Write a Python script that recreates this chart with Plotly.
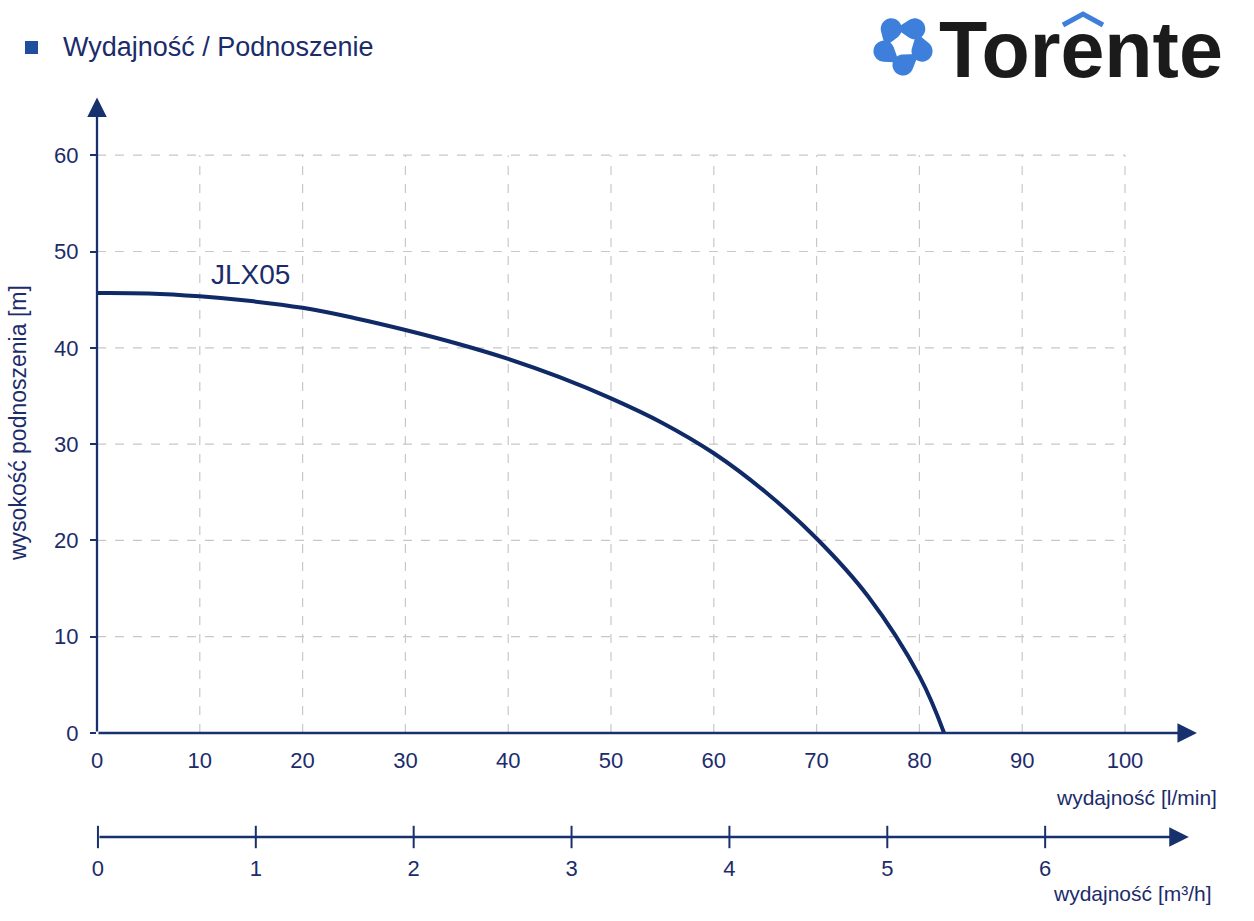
import math
import plotly.graph_objects as go

# ---------------- data ----------------
flow_lpm = [0, 5, 10, 15, 20, 25, 30, 35, 40, 45, 50, 55, 60, 65, 70, 75, 80, 82.4]
head_m = [45.7, 45.65, 45.35, 44.85, 44.15, 43.1, 41.85, 40.45, 38.85, 36.95, 34.75, 32.2,
          29.05, 25.05, 20.2, 14.2, 5.9, 0]
series_name = "JLX05"

x_ticks_lpm = [0, 10, 20, 30, 40, 50, 60, 70, 80, 90, 100]
y_ticks_m = [0, 10, 20, 30, 40, 50, 60]
x_ticks_m3h = [0, 1, 2, 3, 4, 5, 6]

# ---------------- styling ----------------
W, H = 1254, 921
ML, MR, MT, MB = 97, 26, 95, 20
PW, PH = W - ML - MR, H - MT - MB
NAVY = "#17306e"
CURVE = "#0f2a66"
TXT = "#1c2c6b"
GRID = "#c8c8c8"
BLUE = "#3d7fdb"
FONT = "Liberation Sans, Arial, sans-serif"


def px_x(p):
    return (p - ML) / PW


def px_y(p):
    return (H - MB - p) / PH


fig = go.Figure()

fig.add_trace(go.Scatter(
    x=flow_lpm, y=head_m, mode="lines",
    line=dict(color=CURVE, width=4, shape="spline", smoothing=1.1),
    xaxis="x", yaxis="y", showlegend=False, hoverinfo="x+y",
))

# tick marks of the secondary (m3/h) axis
fig.add_trace(go.Scatter(
    x=x_ticks_m3h, y=[0] * len(x_ticks_m3h), mode="markers",
    marker=dict(symbol="line-ns", size=16, line=dict(color=NAVY, width=2)),
    xaxis="x2", yaxis="y2", showlegend=False, cliponaxis=False, hoverinfo="skip",
))

shapes = []
# dashed grid (stops at 100 / 60)
for xv in x_ticks_lpm[1:]:
    shapes.append(dict(type="line", xref="x", yref="y", x0=xv, x1=xv, y0=0, y1=max(y_ticks_m),
                       line=dict(color=GRID, width=1.2, dash="dash"), layer="below"))
for yv in y_ticks_m[1:]:
    shapes.append(dict(type="line", xref="x", yref="y", x0=0, x1=max(x_ticks_lpm), y0=yv, y1=yv,
                       line=dict(color=GRID, width=1.2, dash="dash"), layer="below"))

# title bullet square
shapes.append(dict(type="rect", xref="paper", yref="paper",
                   x0=px_x(25), x1=px_x(38), y0=px_y(54), y1=px_y(41),
                   fillcolor="#1f4f9c", line=dict(width=0)))

# logo roof over the "e"
shapes.append(dict(type="path", xref="paper", yref="paper",
                   path=f"M{px_x(1063)},{px_y(25)} L{px_x(1083)},{px_y(14)} L{px_x(1103)},{px_y(25)}",
                   line=dict(color=BLUE, width=5)))


# logo petals (teardrops in a pinwheel)
def teardrop(cx, cy, r, tail_ang, tail_len, n=40):
    tx = cx + tail_len * math.cos(tail_ang)
    ty = cy + tail_len * math.sin(tail_ang)
    off = math.acos(min(0.99, r / tail_len))
    a0 = tail_ang + off
    a1 = tail_ang - off + 2 * math.pi
    pts = [(tx, ty)]
    for i in range(n + 1):
        a = a0 + (a1 - a0) * i / n
        pts.append((cx + r * math.cos(a), cy + r * math.sin(a)))
    path = "M" + " L".join(f"{px_x(x)},{px_y(y)}" for x, y in pts) + " Z"
    return path


icx, icy = 903, 45
for k in range(5):
    ang = math.radians(-90 - 36 + 72 * k)
    pcx = icx + 20 * math.cos(ang)
    pcy = icy + 20 * math.sin(ang)
    tail = ang + math.pi + math.radians(55)
    shapes.append(dict(type="path", xref="paper", yref="paper",
                       path=teardrop(pcx, pcy, 10.5, tail, 19),
                       fillcolor=BLUE, line=dict(width=0)))

annotations = [
    # axis arrows
    dict(x=107, y=0, ax=0, ay=0, xref="x", yref="y", axref="x", ayref="y",
         showarrow=True, arrowhead=2, arrowsize=1.7, arrowwidth=2.3, arrowcolor=NAVY, text=""),
    dict(x=0, y=66.0, ax=0, ay=0, xref="x", yref="y", axref="x", ayref="y",
         showarrow=True, arrowhead=2, arrowsize=1.7, arrowwidth=2.3, arrowcolor=NAVY, text=""),
    dict(x=6.91, y=0, ax=0, ay=0, xref="x2", yref="y2", axref="x2", ayref="y2",
         showarrow=True, arrowhead=2, arrowsize=1.7, arrowwidth=2.3, arrowcolor=NAVY, text=""),
    # titles
    dict(x=px_x(61), y=px_y(47), xref="paper", yref="paper", text="Wydajność / Podnoszenie",
         showarrow=False, font=dict(size=27, color=TXT, family=FONT), xanchor="left", yanchor="middle"),
    dict(x=px_x(18), y=px_y(423), xref="paper", yref="paper", text="wysokość podnoszenia [m]",
         showarrow=False, textangle=-90, font=dict(size=23, color=TXT, family=FONT),
         xanchor="center", yanchor="middle"),
    dict(x=px_x(1219), y=px_y(797), xref="paper", yref="paper", text="wydajność [l/min]",
         showarrow=False, font=dict(size=21, color=TXT, family=FONT), xanchor="right", yanchor="middle"),
    dict(x=px_x(1214), y=px_y(893), xref="paper", yref="paper", text="wydajność [m³/h]",
         showarrow=False, font=dict(size=21, color=TXT, family=FONT), xanchor="right", yanchor="middle"),
    dict(x=10.9, y=47.6, xref="x", yref="y", text=series_name, showarrow=False,
         font=dict(size=28, color=TXT, family=FONT), xanchor="left", yanchor="middle"),
    # logo text
    dict(x=px_x(937), y=px_y(49), xref="paper", yref="paper", text="<b>Torente</b>",
         showarrow=False, font=dict(size=79, color="#1b1b1b", family=FONT),
         xanchor="left", yanchor="middle"),
]

fig.update_layout(
    width=W, height=H,
    margin=dict(l=ML, r=MR, t=MT, b=MB, autoexpand=False),
    paper_bgcolor="white", plot_bgcolor="rgba(0,0,0,0)",
    font=dict(family=FONT, color=TXT),
    showlegend=False,
    shapes=shapes,
    annotations=annotations,
    xaxis=dict(domain=[0, 1], range=[0, PW / 10.28], anchor="y", automargin=False,
               tickvals=x_ticks_lpm, ticks="outside", ticklen=8, tickcolor="rgba(0,0,0,0)",
               showgrid=False, zeroline=False, showline=False,
               tickfont=dict(size=22, color=TXT, family=FONT), fixedrange=True),
    yaxis=dict(domain=[px_y(733), 1], range=[0, (733 - MT) / 9.63], anchor="x", automargin=False,
               tickvals=y_ticks_m, ticks="outside", ticklen=6, tickwidth=2, tickcolor=NAVY,
               ticklabelstandoff=7,
               showgrid=False, zeroline=False, showline=False,
               tickfont=dict(size=22, color=TXT, family=FONT), fixedrange=True),
    xaxis2=dict(domain=[0, 1], range=[-0.006, PW / 158.0], anchor="free", position=px_y(837),
                automargin=False,
                tickvals=x_ticks_m3h, ticks="outside", ticklen=12,
                tickcolor="rgba(0,0,0,0)", showgrid=False, zeroline=False, showline=False,
                tickfont=dict(size=22, color=TXT, family=FONT), fixedrange=True),
    yaxis2=dict(domain=[px_y(837) - 0.04, px_y(837) + 0.04], range=[-1, 1], visible=False,
                anchor="x2", automargin=False, fixedrange=True),
)

fig.write_html("out.html")
